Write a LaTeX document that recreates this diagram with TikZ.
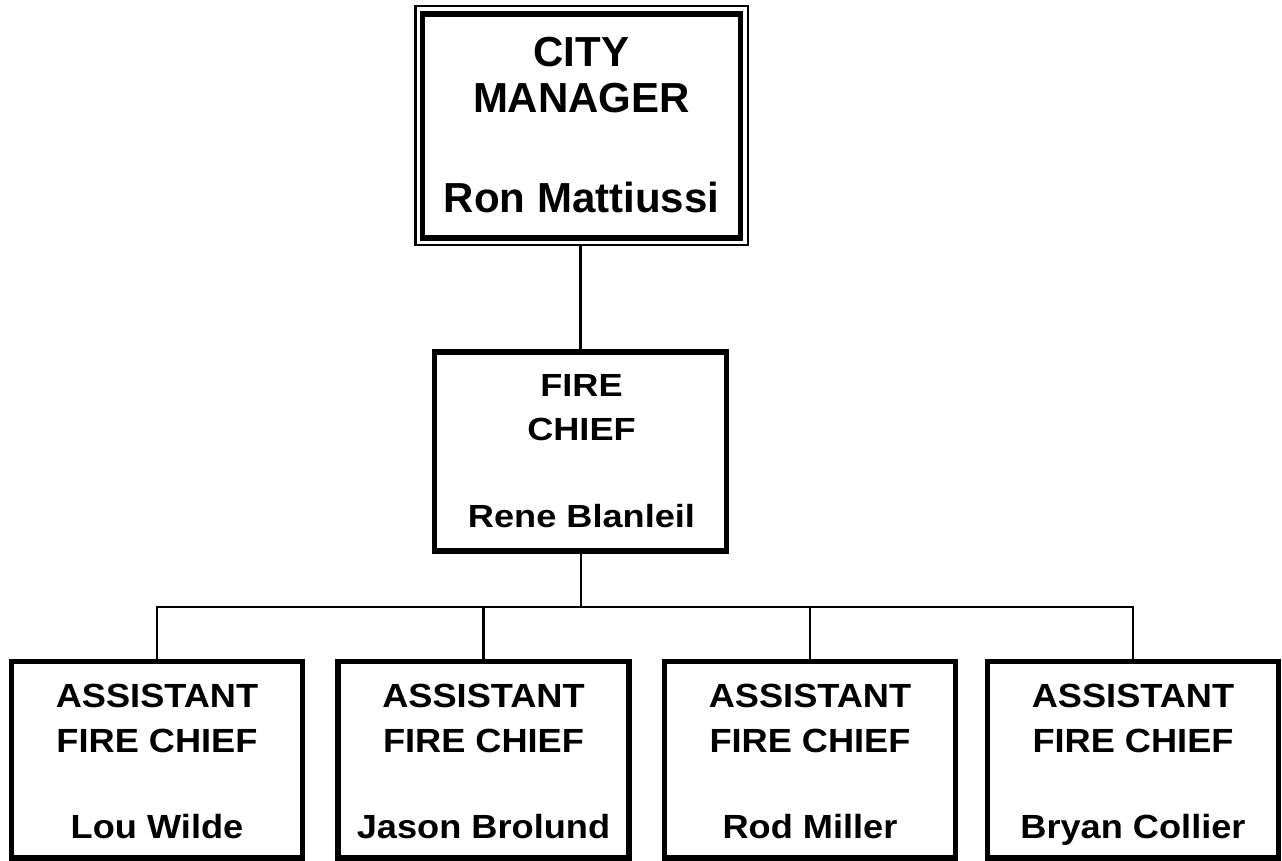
\documentclass[tikz,border=0pt]{standalone}
\usepackage{fontspec}
\setmainfont{Liberation Sans}
\newfontfamily\fcfont[FakeStretch=1.13]{Liberation Sans}
\newfontfamily\asfont[FakeStretch=1.08]{Liberation Sans}
\begin{document}
\begin{tikzpicture}[x=1pt,y=-1pt,
  conn/.style={line width=2.2pt, line cap=rect},
  boxthick/.style={draw, line width=5.5pt, rectangle, inner sep=0pt, fill=white},
  boxthin/.style={draw, line width=2.5pt, rectangle, inner sep=0pt, fill=white},
  cmtext/.style={anchor=base, inner sep=0pt, font=\fontsize{42}{46}\selectfont\bfseries},
  fctext/.style={anchor=base, inner sep=0pt, font=\fcfont\fontsize{32}{36}\selectfont\bfseries},
  astext/.style={anchor=base, inner sep=0pt, font=\asfont\fontsize{33.5}{38}\selectfont\bfseries}]
\fill[white] (0,0) rectangle (1282,861);
\useasboundingbox (0,0) rectangle (1282,861);

% City manager
\node[boxthin, minimum width=332.5pt, minimum height=239pt] (cmouter) at (581.7,125.5) {};
\node[boxthick, minimum width=318pt, minimum height=224pt] (cm) at (581.5,126) {};
\node[cmtext] (cm1) at (581.5,66.7) {CITY};
\node[cmtext] (cm2) at (581.5,113) {MANAGER};
\node[cmtext] (cm3) at (581.5,213) {Ron Mattiussi};

% Fire chief
\node[boxthick, minimum width=292pt, minimum height=199pt] (fc) at (580.5,451.5) {};
\node[fctext] (fc1) at (581.5,396) {FIRE};
\node[fctext] (fc2) at (581.5,440) {CHIEF};
\node[fctext] (fc3) at (581.5,527) {Rene Blanleil};

\coordinate (bus) at (581,607);

% Assistant fire chiefs
\foreach \i/\x/\nm in {1/157/Lou Wilde, 2/483.5/Jason Brolund, 3/810/Rod Miller, 4/1133/Bryan Collier} {
  \node[boxthick, minimum width=291pt, minimum height=196.5pt] (a\i) at (\x,759.75) {};
  \node[astext] (a\i t1) at (\x,707) {ASSISTANT};
  \node[astext] (a\i t2) at (\x,752) {FIRE CHIEF};
  \node[astext] (a\i t3) at (\x,838) {\nm};
}

% Connectors
\draw[conn] (cmouter.south -| fc.north) -- (fc.north);
\draw[conn] (fc.south -| bus) -- (bus);
\draw[conn] (bus) -| (a1.north);
\draw[conn] (bus) -| (a4.north);
\draw[conn] (a2.north |- bus) -- (a2.north);
\draw[conn] (a3.north |- bus) -- (a3.north);
\end{tikzpicture}
\end{document}
